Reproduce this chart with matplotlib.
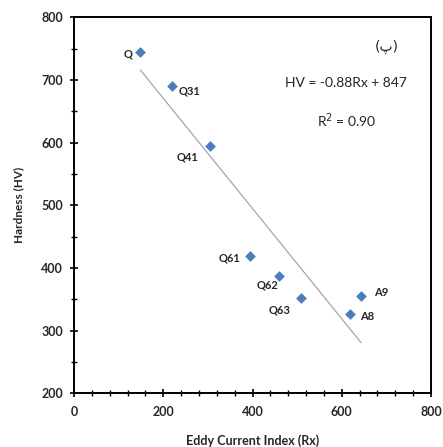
import matplotlib
matplotlib.use("Agg")
import matplotlib.pyplot as plt
from matplotlib.ticker import MultipleLocator
import numpy as np

plt.rcParams['font.family'] = ['Lato', 'DejaVu Sans']

labels = ["Q", "Q31", "Q41", "Q61", "Q62", "Q63", "A9", "A8"]
rx = [149, 219, 304, 395, 460, 509, 643, 618]
hv = [745, 690, 595, 420, 387, 352, 356, 326]
label_pos = [(132, 741, 'right'), (235, 682, 'left'), (280, 578, 'right'),
             (372, 416, 'right'), (459, 373, 'right'), (484, 333, 'right'),
             (672, 361, 'left'), (642, 322, 'left')]
slope, intercept = -0.88, 847
xticks = [0, 200, 400, 600, 800]
yticks = [200, 300, 400, 500, 600, 700, 800]

fig = plt.figure(figsize=(4.43, 4.47), dpi=100)
ax = fig.add_axes([0.167, 0.12, 0.806, 0.841])

xl = np.array([min(rx), max(rx)])
ax.plot(xl, slope * xl + intercept, color='#a6a6a6', lw=0.9, zorder=1)
ax.scatter(rx, hv, marker='D', s=30, color='#4a7ebb', zorder=3, linewidths=0)

for lab, (lx, ly, ha) in zip(labels, label_pos):
    ax.text(lx, ly, lab, ha=ha, va='center', fontsize=8, fontweight='bold', color='#262626')

ax.text(700, 753, '(پ)', ha='center', va='center', fontsize=10,
        family=['DejaVu Sans'], color='#262626')
ax.text(610, 695, 'HV = -0.88Rx + 847', ha='center', va='center', fontsize=10, color='#262626')
ax.text(611, 635, 'R$^{2}$ = 0.90', ha='center', va='center', fontsize=10, color='#262626')

ax.set_xlim(0, 800)
ax.set_ylim(200, 800)
ax.set_xticks(xticks)
ax.set_yticks(yticks)
ax.xaxis.set_minor_locator(MultipleLocator(40))
ax.yaxis.set_minor_locator(MultipleLocator(50))
ax.tick_params(axis='both', which='major', direction='inout', length=6, width=1.2,
               labelsize=9, colors='black')
ax.tick_params(axis='both', which='minor', direction='inout', length=4, width=1.0)
for lbl in ax.get_xticklabels() + ax.get_yticklabels():
    lbl.set_fontweight('bold')
    lbl.set_color('#262626')
ax.tick_params(axis='x', pad=6)
ax.tick_params(axis='y', pad=5)
for s in ax.spines.values():
    s.set_linewidth(1.4)

ax.set_xlabel('Eddy Current Index (Rx)', fontsize=9, fontweight='bold', color='#262626', labelpad=12)
ax.set_ylabel('Hardness (HV)', fontsize=8.5, fontweight='bold', color='#262626', labelpad=12)

fig.savefig('out.png', dpi=100)
